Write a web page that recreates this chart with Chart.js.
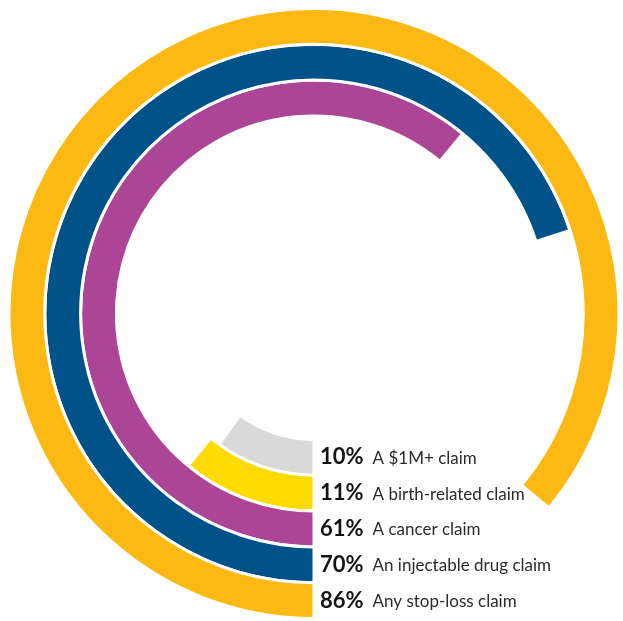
<!DOCTYPE html>
<html>
<head>
<meta charset="utf-8">
<script src="https://cdn.jsdelivr.net/npm/chart.js@4"></script>
<style>
    html, body { margin: 0; padding: 0; background: #fff; }
    #wrap { position: relative; width: 623px; height: 621px; }
</style>
</head>
<body>
<div id="wrap"><canvas id="chart"></canvas></div>
<script>
// outermost ring first
const claimTypes = ['Any stop-loss claim', 'An injectable drug claim', 'A cancer claim', 'A birth-related claim', 'A $1M+ claim'];
const percents = [86, 70, 61, 11, 10];
const ringColors = ['#FDB913', '#02528A', '#AD4596', '#FEDB00', '#D9D9D9'];

var datasets = [];
percents.forEach((p, i) => {
    datasets.push({
        label: claimTypes[i],
        data: [p, 100 - p],
        backgroundColor: [ringColors[i], 'rgba(0,0,0,0)'],
        borderColor: ['#fff', 'rgba(0,0,0,0)'],
        borderWidth: [3, 0]
    });
});

// labels sit right of the ring start, centred on each band
const ringLabels = {
    id: 'ringLabels',
    afterDatasetsDraw(chart) {
        const ctx = chart.ctx;
        ctx.save();
        ctx.textBaseline = 'middle';
        chart.data.datasets.forEach((ds, i) => {
            const arc = chart.getDatasetMeta(i).data[0];
            const y = arc.y + (arc.innerRadius + arc.outerRadius) / 2;
            const x = arc.x + 6;
            ctx.font = 'bold 22px Lato';
            ctx.fillStyle = '#141414';
            const pct = ds.data[0] + '%';
            ctx.fillText(pct, x, y);
            const w = ctx.measureText(pct).width;
            ctx.font = '17px Lato';
            ctx.fillStyle = '#2b2b2b';
            ctx.fillText(ds.label, x + w + 9, y + 1);
        });
        ctx.restore();
    }
};

var ctx = document.getElementById('chart').getContext('2d');
var chart = new Chart(ctx, {
    type: 'doughnut',
    data: {
        labels: ['value', 'rest'],
        datasets: datasets
    },
    options: {
        responsive: true,
        maintainAspectRatio: false,
        animation: false,
        rotation: 180,
        cutout: '41.3%',
        layout: {
            padding: { left: 7, right: 2, top: 7, bottom: 1 }
        },
        plugins: {
            legend: { display: false },
            tooltip: { enabled: false }
        }
    },
    plugins: [ringLabels]
});
</script>
</body>
</html>
